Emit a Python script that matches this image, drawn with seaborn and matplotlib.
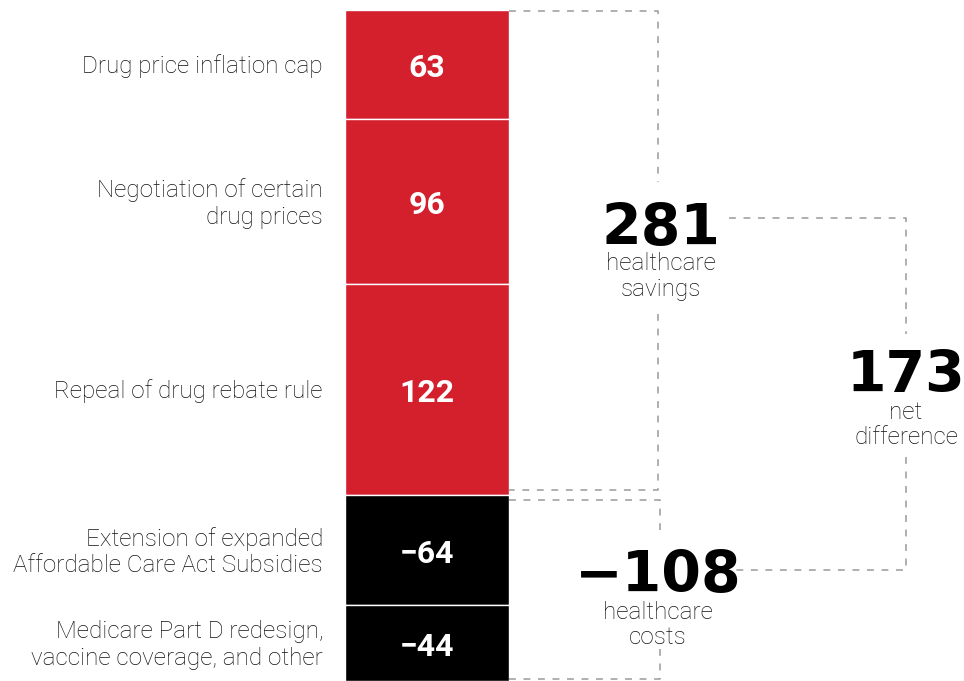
import matplotlib
matplotlib.use("Agg")
import matplotlib.pyplot as plt
import seaborn as sns
import pandas as pd

# Budget effects of the health provisions (billions of dollars)
items = [
    "Drug price inflation cap",
    "Negotiation of certain\ndrug prices",
    "Repeal of drug rebate rule",
    "Extension of expanded\nAffordable Care Act Subsidies",
    "Medicare Part D redesign,\nvaccine coverage, and other",
]
values = [63, 96, 122, -64, -44]
value_labels = ["63", "96", "122", "\u221264", "\u221244"]

SAVINGS_COLOR = "#d41f2d"
COST_COLOR = "#000000"

savings = sum(v for v in values if v > 0)
costs = sum(v for v in values if v < 0)
net = savings + costs


def fmt(v):
    return f"{v}" if v >= 0 else f"\u2212{abs(v)}"


sns.set_theme(style="white")
plt.rcParams["font.family"] = ["Roboto", "DejaVu Sans"]

W, H = 964, 681
TOP = 10
BAR_L, BAR_R = 345, 509

fig = plt.figure(figsize=(W / 100, H / 100), dpi=100)
fig.patch.set_facecolor("white")

ax = fig.add_axes([BAR_L / W, 0, (BAR_R - BAR_L) / W, (H - TOP) / H])

df = pd.DataFrame({"item": items, "value": values, "label": value_labels})
df["size"] = df["value"].abs()
df["bottom"] = df["size"].cumsum() - df["size"]
df["color"] = [SAVINGS_COLOR if v > 0 else COST_COLOR for v in df["value"]]
total = df["size"].sum()

for _, row in df.iterrows():
    sns.barplot(x=["all"], y=[row["size"]], bottom=[row["bottom"]],
                color=row["color"], saturation=1, width=1,
                edgecolor="white", linewidth=1.0, ax=ax)

ax.set_xlim(-0.5, 0.5)
ax.set_ylim(total, 0)
ax.axis("off")

# overlay in figure pixel space for labels and brackets
ov = fig.add_axes([0, 0, 1, 1])
ov.set_xlim(0, W)
ov.set_ylim(H, 0)
ov.axis("off")


def py(v):
    return TOP + v / total * (H - TOP)


label_kw = dict(fontsize=17.5, fontweight="light", color="#111111",
                family=["Roboto", "DejaVu Sans"])

bar_mid = (BAR_L + BAR_R) / 2
for _, row in df.iterrows():
    yc = py(row["bottom"] + row["size"] / 2)
    ov.text(323, yc + 2, row["item"],
            ha="right", va="center", multialignment="right",
            linespacing=1.2, **label_kw)
    ov.text(bar_mid, yc + 4, row["label"],
            ha="center", va="center", color="white", fontsize=23,
            fontweight="bold", family=["Roboto", "DejaVu Sans"])

dash_kw = dict(color="#9a9a9a", lw=1.1, linestyle=(0, (4.5, 5)),
               solid_capstyle="butt")

# savings bracket
x_s = 658
y_top = py(0) + 0.5
y_sb = py(savings) - 4.5
ov.plot([BAR_R, x_s, x_s], [y_top, y_top, 182], **dash_kw)
ov.plot([x_s, x_s, BAR_R], [314, y_sb, y_sb], **dash_kw)

# costs bracket
x_c = 660
y_ct = py(savings) + 5.5
y_cb = py(total) - 2
ov.plot([BAR_R, x_c, x_c], [y_ct, y_ct, 530], **dash_kw)
ov.plot([x_c, x_c, BAR_R], [649, y_cb, y_cb], **dash_kw)

# net difference bracket
x_n = 906
ov.plot([729, x_n, x_n], [218, 218, 334], **dash_kw)
ov.plot([x_n, x_n, 736], [457, 570, 570], **dash_kw)

big_kw = dict(fontsize=41, fontweight="bold", color="black",
              family=["DejaVu Sans"], ha="center", va="baseline")
sub_kw = dict(ha="center", va="baseline", **label_kw)

ov.text(661, 245, fmt(savings), **big_kw)
ov.text(661, 270, "healthcare", **sub_kw)
ov.text(661, 296, "savings", **sub_kw)

ov.text(658, 592, fmt(costs), **big_kw)
ov.text(658, 619, "healthcare", **sub_kw)
ov.text(658, 644, "costs", **sub_kw)

ov.text(906, 392, fmt(net), **big_kw)
ov.text(906, 419, "net", **sub_kw)
ov.text(906, 444, "difference", **sub_kw)

fig.savefig("out.png", dpi=100)
